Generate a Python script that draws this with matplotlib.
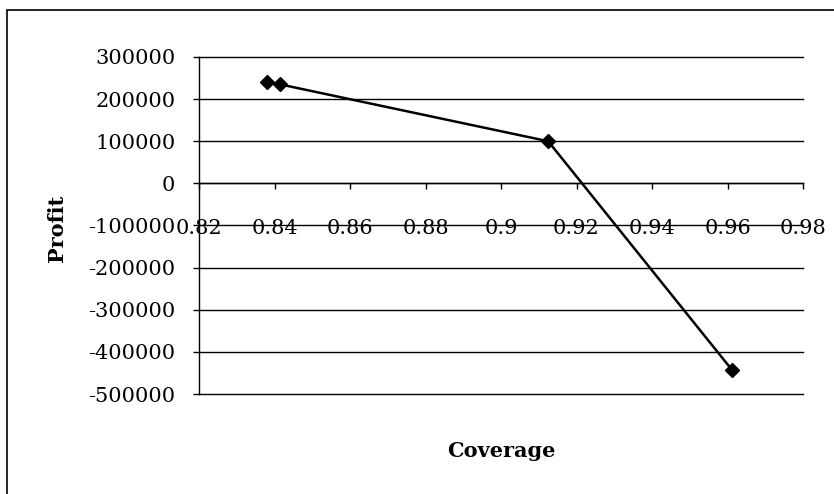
import numpy as np
import matplotlib.pyplot as plt
from matplotlib.patches import Rectangle

# coverage vs profit
coverage = [0.838, 0.8415, 0.9125, 0.9612]
profit = [240000, 235000, 100000, -443000]

x_ticks = [0.82, 0.84, 0.86, 0.88, 0.9, 0.92, 0.94, 0.96, 0.98]
x_tick_labels = ['0.82', '0.84', '0.86', '0.88', '0.9', '0.92', '0.94', '0.96', '0.98']
y_ticks = [300000, 200000, 100000, 0, -100000, -200000, -300000, -400000, -500000]

plt.rcParams['font.family'] = ['DejaVu Serif']
plt.rcParams['axes.unicode_minus'] = False

fig = plt.figure(figsize=(8.34, 4.94), dpi=100)
W, H = 834, 494
ax = fig.add_axes([199 / W, 1 - 394 / H, (803 - 199) / W, (394 - 57) / H])

# chart border (only left and top edges fall inside the image)
fig.patches.append(Rectangle((7 / W, -10 / H), (900 - 7) / W, (484 + 10) / H,
                             transform=fig.transFigure, fill=False,
                             edgecolor='black', linewidth=1.2, clip_on=False))

ax.plot(coverage, profit, color='black', linewidth=1.8,
        marker='D', markersize=7, markerfacecolor='black', markeredgecolor='black',
        zorder=3)

ax.set_xlim(0.82, 0.98)
ax.set_ylim(-500000, 300000)
ax.set_xticks(x_ticks)
ax.set_xticklabels(x_tick_labels)
ax.set_yticks(y_ticks)
ax.set_yticklabels([str(v) for v in y_ticks])

# horizontal gridlines, drawn unclipped so the edge lines stay full width
for v in y_ticks:
    ax.axhline(v, color='black', linewidth=1.0, zorder=1, clip_on=False)

for s in ['top', 'right']:
    ax.spines[s].set_visible(False)
ax.spines['bottom'].set_position(('data', 0))
ax.spines['bottom'].set_linewidth(1.0)
ax.spines['left'].set_linewidth(1.0)

ax.tick_params(axis='x', direction='out', length=4, width=1, pad=22, labelsize=15)
ax.tick_params(axis='y', direction='out', length=4, width=1, pad=13, labelsize=15)

ax.set_xlabel('Coverage', fontsize=15, fontweight='bold', labelpad=0)
ax.xaxis.set_label_coords(0.5, -(451 - 394) / (394 - 57), transform=ax.transAxes)
ax.xaxis.label.set_va('center')
ax.set_ylabel('Profit', fontsize=15, fontweight='bold')
ax.yaxis.set_label_coords((57 - 199) / (803 - 199), (394 - 228) / (394 - 57))
ax.yaxis.label.set_va('center')

fig.savefig('out.png', dpi=100)
